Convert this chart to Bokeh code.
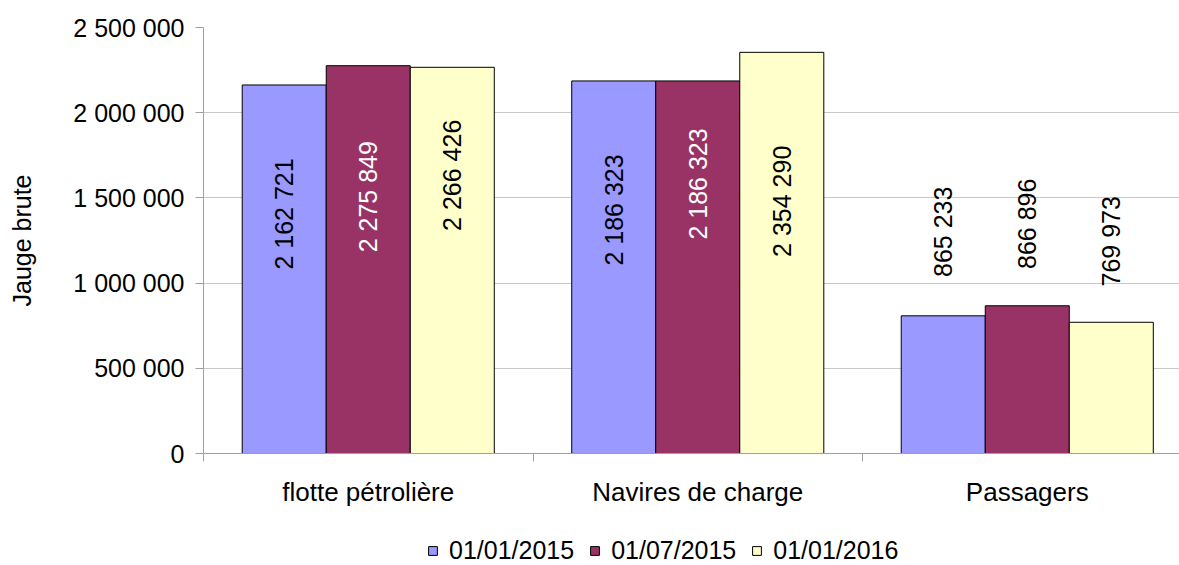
import numpy as np
from bokeh.plotting import figure
from bokeh.layouts import column
from bokeh.models import ColumnDataSource, FixedTicker, Range1d, Legend, LegendItem
from bokeh.core.properties import value
from bokeh.embed import file_html
from bokeh.resources import INLINE

# ---- data ----
categories = ["flotte pétrolière", "Navires de charge", "Passagers"]
series_names = ["01/01/2015", "01/07/2015", "01/01/2016"]
jan2015 = [2162721, 2186323, 808000]
jul2015 = [2275849, 2186323, 866896]
jan2016 = [2266426, 2354290, 769973]
jan2015_labels = ["2 162 721", "2 186 323", "865 233"]
jul2015_labels = ["2 275 849", "2 186 323", "866 896"]
jan2016_labels = ["2 266 426", "2 354 290", "769 973"]
y_ticks = [0, 500000, 1000000, 1500000, 2000000, 2500000]
y_tick_labels = ["0", "500 000", "1 000 000", "1 500 000", "2 000 000", "2 500 000"]

# ---- styles ----
FONT = "Liberation Sans"
FS = "25px"
CAT_FS = "26px"
colors = ["#9999FF", "#993366", "#FFFFCC"]
label_colors = [["black", "black", "black"], ["white", "white", "black"], ["black", "black", "black"]]
label_dy = [[129, 129, -84], [131, 103, -82], [108, 149, -81]]  # px offset of label centre below bar top
BAR_W = 0.255

series = [jan2015, jul2015, jan2016]
series_labels = [jan2015_labels, jul2015_labels, jan2016_labels]

p = figure(width=1179, height=520, output_backend="svg", toolbar_location=None,
           x_range=Range1d(0, 2.962), y_range=Range1d(0, 2500000),
           min_border_left=203, min_border_right=0, min_border_top=27, min_border_bottom=67)
p.outline_line_color = None
p.background_fill_color = "white"
p.border_fill_color = "white"

for s, vals in enumerate(series):
    xs = [i + 0.5 + (s - 1) * BAR_W for i in range(len(categories))]
    src = ColumnDataSource(dict(x=xs, top=vals))
    p.vbar(x="x", top="top", bottom=0, width=BAR_W, source=src,
           fill_color=colors[s], line_color="black", line_width=1)
    lsrc = ColumnDataSource(dict(x=xs, y=vals, text=series_labels[s],
                                 c=label_colors[s], dy=label_dy[s]))
    p.text(x="x", y="y", text="text", source=lsrc, angle=np.pi / 2,
           text_align="center", text_baseline="middle", y_offset="dy",
           text_color="c", text_font=value(FONT), text_font_size=FS)

# y axis
yax = p.yaxis[0]
yax.ticker = FixedTicker(ticks=y_ticks)
yax.major_label_overrides = {t: l for t, l in zip(y_ticks, y_tick_labels)}
yax.minor_tick_line_color = None
yax.major_tick_out = 8
yax.major_tick_in = 0
yax.major_tick_line_color = "#a0a0a0"
yax.axis_line_color = "#a0a0a0"
yax.major_label_standoff = 11
yax.major_label_text_font = FONT
yax.major_label_text_font_size = FS
yax.major_label_text_color = "black"
yax.axis_label = "Jauge brute"
yax.axis_label_text_font = FONT
yax.axis_label_text_font_size = FS
yax.axis_label_text_font_style = "normal"
yax.axis_label_text_color = "black"
yax.axis_label_standoff = 34

# x axis
xax = p.xaxis[0]
cat_centres = [i + 0.5 for i in range(len(categories))]
xax.ticker = FixedTicker(ticks=cat_centres, minor_ticks=[0, 1, 2, 3])
xax.major_label_overrides = {c: n for c, n in zip(cat_centres, categories)}
xax.major_tick_line_color = None
xax.major_tick_out = 0
xax.major_tick_in = 0
xax.minor_tick_out = 8
xax.minor_tick_in = 0
xax.minor_tick_line_color = "#a0a0a0"
xax.axis_line_color = "#a0a0a0"
xax.major_label_standoff = 15
xax.major_label_text_font = FONT
xax.major_label_text_font_size = CAT_FS
xax.major_label_text_color = "black"

p.xgrid.grid_line_color = None
p.ygrid.grid_line_color = "#c8c8c8"
p.ygrid.ticker = FixedTicker(ticks=y_ticks)

# legend strip (separate small figure below the chart; its frame is aligned with the chart frame)
lf = figure(width=1179, height=45, output_backend="svg", toolbar_location=None,
            x_range=Range1d(0, 1), y_range=Range1d(0, 1),
            x_axis_type=None, y_axis_type=None,
            min_border_left=0, min_border_right=0, min_border_top=0, min_border_bottom=0)
lf.outline_line_color = None
lf.xgrid.visible = False
lf.ygrid.visible = False
leg_renderers = []
for s in range(len(series_names)):
    # off-screen proxy glyph, only used to draw the legend swatch
    leg_renderers.append(lf.vbar(x=[-5], top=[0], width=0.1, fill_color=colors[s],
                                 line_color="black", line_width=1))
legend = Legend(items=[LegendItem(label=n, renderers=[r]) for n, r in zip(series_names, leg_renderers)],
                orientation="horizontal", location=(224, 0),
                glyph_width=11, glyph_height=11, label_standoff=11, spacing=15,
                padding=0, margin=0, border_line_color=None, background_fill_alpha=0,
                label_text_font=FONT, label_text_font_size=FS, label_text_color="black")
lf.add_layout(legend)

layout = column(p, lf, spacing=0)
open("out.html", "w").write(file_html(layout, INLINE))
